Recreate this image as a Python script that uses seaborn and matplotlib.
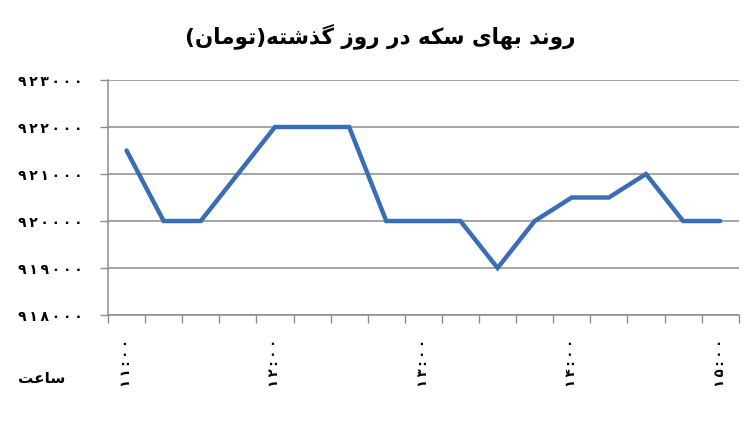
import matplotlib
matplotlib.use('Agg')
import matplotlib.pyplot as plt
import pandas as pd
import seaborn as sns
from matplotlib.ticker import FixedLocator, NullFormatter

# ---- data (15-minute steps, 11:00 -> 15:00) ----
slots = list(range(17))
prices = [921500, 920000, 920000, 921000, 922000, 922000, 922000, 920000,
          920000, 920000, 919000, 920000, 920500, 920500, 921000, 920000, 920000]
hour_pos = [0, 4, 8, 12, 16]
hour_labels = ['۱۱:۰۰', '۱۲:۰۰', '۱۳:۰۰', '۱۴:۰۰', '۱۵:۰۰']
y_ticks = [918000, 919000, 920000, 921000, 922000, 923000]

# matplotlib has no bidi / arabic shaping, so the Persian strings are
# written with presentation forms in visual (left to right) order
title_txt = ('(' + '\uFEE5\uFE8E\uFEE3\uFEEE\uFE97' + ')'
             + '\uFEEA\uFE98\uFEB7\uFEAC\uFB94' + ' '
             + '\uFEAF\uFEED\uFEAD' + ' '
             + '\uFEAD\uFEA9' + ' '
             + '\uFEEA\uFB91\uFEB3' + ' '
             + '\uFEEF\uFE8E\uFEEC\uFE91' + ' '
             + '\uFEAA\uFEE7\uFEED\uFEAD')
xlabel_txt = '\uFE96\uFECB\uFE8E\uFEB3'

fa_digits = str.maketrans('0123456789', '۰۱۲۳۴۵۶۷۸۹')


def fa_num(v):
    return '\u2009'.join(str(v).translate(fa_digits))


def spaced(s):
    return '\u2009'.join(s)


df = pd.DataFrame({'slot': slots, 'price': prices})

sns.set_style('white')
plt.rcParams['font.family'] = ['DejaVu Sans']
plt.rcParams['text.color'] = 'black'
plt.rcParams['xtick.color'] = 'black'
plt.rcParams['ytick.color'] = 'black'

fig, ax = plt.subplots(figsize=(7.5, 4.36), dpi=100)
fig.subplots_adjust(left=0.144, right=0.985, top=0.8165, bottom=0.2775)

sns.lineplot(data=df, x='slot', y='price', ax=ax, color='#3a6db4',
             linewidth=3.2, solid_joinstyle='miter')

# y axis
ax.set_ylim(y_ticks[0], y_ticks[-1])
ax.set_yticks(y_ticks)
ax.set_yticklabels([fa_num(v) for v in y_ticks], fontsize=10, fontweight='bold')
ax.yaxis.grid(True, color='#8c8c8c', linewidth=1.1)
ax.tick_params(axis='y', length=6, width=1, color='#8c8c8c', pad=12, left=True)

# x axis: category boundaries get the tick marks, labels sit on the points
ax.set_xlim(-0.5, 16.5)
ax.set_xticks(hour_pos)
ax.set_xticklabels([spaced(h) for h in hour_labels], rotation=90, fontsize=9.5,
                   fontweight='bold')
ax.xaxis.set_minor_locator(FixedLocator([s - 0.5 for s in slots] + [16.5]))
ax.xaxis.set_minor_formatter(NullFormatter())
ax.tick_params(axis='x', which='major', length=0, pad=17)
ax.tick_params(axis='x', which='minor', length=6, width=1, color='#8c8c8c',
               bottom=True)
ax.set_xlabel('')
ax.set_ylabel('')

for side in ['top', 'right']:
    ax.spines[side].set_visible(False)
for side in ['left', 'bottom']:
    ax.spines[side].set_color('#8c8c8c')
    ax.spines[side].set_linewidth(1.1)

fig.text(0.507, 0.918, title_txt, ha='center', va='center', fontsize=15.5,
         fontweight='bold')
fig.text(0.055, 0.133, xlabel_txt, ha='center', va='center', fontsize=11,
         fontweight='bold')

plt.savefig('out.png', dpi=100)
